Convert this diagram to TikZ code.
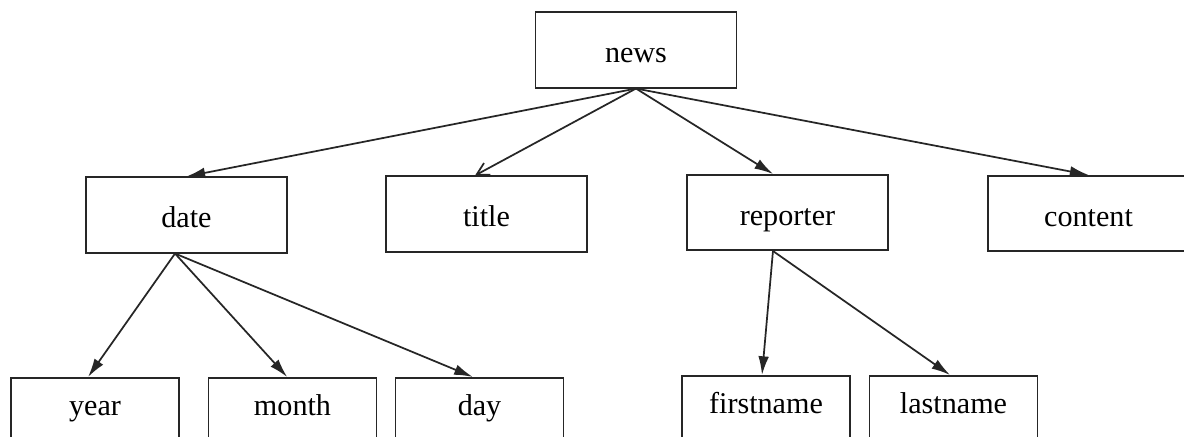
\documentclass[tikz,border=0pt]{standalone}
\usepackage{fontspec}
\setmainfont{Liberation Serif}
\usetikzlibrary{arrows.meta}
\begin{document}
\begin{tikzpicture}[x=0.75pt,y=-0.75pt,
  box/.style={draw=black!85, line width=1.3pt, rectangle, inner sep=0pt,
    minimum width=150.75pt, minimum height=56.5pt,
    text height=21pt, text depth=2.25pt,
    font=\fontsize{22.6}{25}\selectfont},
  leaf/.style={box, minimum width=126pt, text height=12pt, text depth=12pt},
  arr/.style={line width=1.3pt, draw=black!85, -{Latex[length=14pt,width=8pt]}},
  openarr/.style={line width=1.3pt, draw=black!85, -{Straight Barb[length=9pt,width=10pt]}}]
  \clip (0,0) rectangle (1184,436);
  \fill[white] (0,0) rectangle (1184,436);

  % root
  \node[box] (news) at (636,50) {news};

  % second level
  \node[box] (date) at (186.5,215) {date};
  \node[box] (title) at (486.5,214) {title};
  \node[box] (reporter) at (787.5,212.5) {reporter};
  \node[box] (content) at (1088.5,213.5) {content};

  % leaves
  \node[leaf] (year) at (95,415.5) {year};
  \node[leaf] (month) at (292.5,415.5) {month};
  \node[leaf] (day) at (479.5,415.5) {day};
  \node[leaf] (firstname) at (766,413.5) {firstname};
  \node[leaf] (lastname) at (953.5,413.5) {lastname};

  % connectors
  \draw[arr] (news.south) -- (date.north);
  \draw[openarr] (news.south) -- ([xshift=-8.6pt]title.north);
  \draw[arr] (news.south) -- ([xshift=-10.9pt]reporter.north);
  \draw[arr] (news.south) -- (content.north);

  \draw[arr] ([xshift=-8.6pt]date.south) -- ([xshift=-5.2pt]year.north);
  \draw[arr] ([xshift=-8.6pt]date.south) -- ([xshift=-4pt]month.north);
  \draw[arr] ([xshift=-8.6pt]date.south) -- ([xshift=-5pt]day.north);

  \draw[arr] ([xshift=-10.9pt]reporter.south) -- ([xshift=-3pt]firstname.north);
  \draw[arr] ([xshift=-10.9pt]reporter.south) -- ([xshift=-2.6pt]lastname.north);
\end{tikzpicture}
\end{document}
